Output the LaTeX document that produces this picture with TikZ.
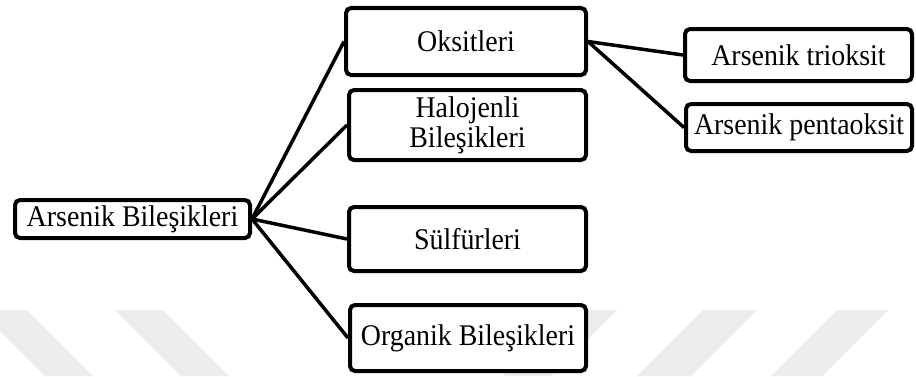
\documentclass[tikz,border=0pt]{standalone}
\usepackage{fontspec}
\setmainfont{Liberation Serif}[FakeStretch=0.93]
\begin{document}
\begin{tikzpicture}[x=1pt,y=1pt,
  box/.style={draw=black, line width=4pt, rounded corners=5pt, fill=white,
    inner sep=2pt, align=center, font=\fontsize{30}{30}\selectfont},
  link/.style={draw=black, line width=3.5pt}]
\useasboundingbox (0,0) rectangle (916,376);
% faint watermark bands
\fill[black!7] (-21,66) -- (27,66) -- (93,0) -- (45,0) -- cycle;
\fill[black!7] (115,66) -- (163,66) -- (229,0) -- (181,0) -- cycle;
\fill[black!7] (569,66) -- (617,66) -- (551,0) -- (503,0) -- cycle;
\fill[black!7] (703,66) -- (757,66) -- (691,0) -- (637,0) -- cycle;
\fill[black!7] (837,66) -- (888,66) -- (822,0) -- (771,0) -- cycle;
% nodes
\node[box, minimum width=235pt, minimum height=38pt] (root) at (132.5,157) {Arsenik Bileşikleri};
\node[box, minimum width=240pt, minimum height=67pt] (oks) at (466,334.5) {Oksitleri};
\node[box, minimum width=237pt, minimum height=70pt] (hal) at (467.5,251) {Halojenli\\Bileşikleri};
\node[box, minimum width=237pt, minimum height=64pt] (sul) at (467.5,137) {Sülfürleri};
\node[box, minimum width=236pt, minimum height=66pt] (org) at (468,38) {Organik Bileşikleri};
\node[box, minimum width=227pt, minimum height=52pt] (tri) at (798.5,321) {Arsenik trioksit};
\node[box, minimum width=226pt, minimum height=47pt] (pen) at (799,248.5) {Arsenik pentaoksit};
% connectors
\draw[link] (root.east) -- (oks.west);
\draw[link] (root.east) -- (hal.west);
\draw[link] (root.east) -- (sul.west);
\draw[link] (root.east) -- (org.west);
\draw[link] (oks.east) -- (tri.west);
\draw[link] (oks.east) -- (pen.west);
\end{tikzpicture}
\end{document}
